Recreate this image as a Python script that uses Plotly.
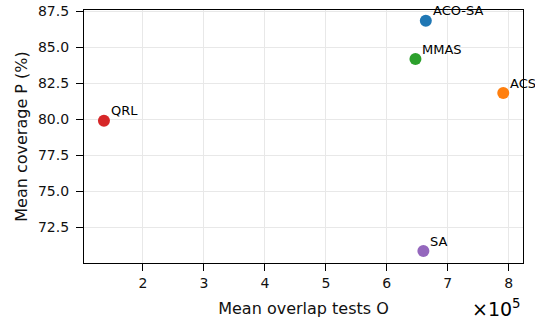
import plotly.graph_objects as go

methods = ["ACO-SA", "ACS", "MMAS", "QRL", "SA"]
overlap_tests = [664000, 791000, 647000, 136000, 660000]
coverage = [86.83, 81.81, 84.17, 79.88, 70.85]
colors = ["#1f77b4", "#ff7f0e", "#2ca02c", "#d62728", "#9467bd"]

x_tick_vals = [200000, 300000, 400000, 500000, 600000, 700000, 800000]
x_tick_text = ["2", "3", "4", "5", "6", "7", "8"]
y_tick_vals = [72.5, 75.0, 77.5, 80.0, 82.5, 85.0, 87.5]
y_tick_text = ["72.5", "75.0", "77.5", "80.0", "82.5", "85.0", "87.5"]

FONT = "DejaVu Sans"

fig = go.Figure()
for m, xv, yv, c in zip(methods, overlap_tests, coverage, colors):
    fig.add_trace(go.Scatter(
        x=[xv], y=[yv], mode="markers", name=m,
        marker=dict(size=12, color=c, line=dict(width=0)),
        showlegend=False, cliponaxis=False,
    ))
    fig.add_annotation(
        x=xv, y=yv, text=m, showarrow=False,
        xanchor="left", yanchor="middle", xshift=5, yshift=10,
        font=dict(family=FONT, size=13, color="black"),
    )

fig.add_annotation(
    xref="paper", yref="paper", x=1.0, y=0, yshift=-31,
    xanchor="right", yanchor="top", showarrow=False,
    text="×10<sup>5</sup>", font=dict(family=FONT, size=19, color="black"),
)

axis_common = dict(
    showline=True, linecolor="black", linewidth=1.3, mirror=True,
    ticks="outside", ticklen=7, tickwidth=1.2, tickcolor="black",
    showgrid=True, gridcolor="#e8e8e8", gridwidth=1, zeroline=False,
    tickfont=dict(family=FONT, size=14, color="#111"),
)

fig.update_xaxes(
    range=[103300, 823400], tickvals=x_tick_vals, ticktext=x_tick_text,
    title=dict(text="Mean overlap tests O", font=dict(family=FONT, size=16, color="#111"), standoff=12),
    **axis_common,
)
fig.update_yaxes(
    range=[70.02, 87.57], tickvals=y_tick_vals, ticktext=y_tick_text,
    ticklabelstandoff=4,
    title=dict(text="Mean coverage P (%)", font=dict(family=FONT, size=16, color="#111"), standoff=6),
    **axis_common,
)

fig.update_layout(
    width=535, height=320,
    margin=dict(l=84, r=12, t=10, b=57, autoexpand=False),
    paper_bgcolor="white", plot_bgcolor="white",
    font=dict(family=FONT),
)

fig.write_html(
    "out.html",
    config={"displayModeBar": False},
    post_script="document.body.style.margin='0px';document.body.style.padding='0px';",
)
